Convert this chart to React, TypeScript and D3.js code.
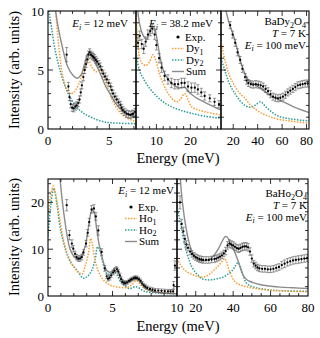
import React from "react";
import * as d3 from "d3";

const FONT = "'Liberation Serif', 'Times New Roman', serif";
const ORANGE = "#f89c34";
const TEAL = "#2b9e98";
const GRAY = "#8c8c8c";

type Pt = [number, number];
type ExpPt = [number, number, number];

// ---- BaDy2O4, Ei = 12 meV ----
const dy12Exp: ExpPt[] = [
  [1.52, 6.3, 0.6], [1.66, 3.6, 0.35], [1.75, 2.7, 0.3], [1.85, 2.1, 0.3], [1.97, 1.8, 0.3],
  [2.1, 1.75, 0.3], [2.22, 1.9, 0.3], [2.34, 2.0, 0.3], [2.46, 2.2, 0.3], [2.57, 2.5, 0.3],
  [2.67, 3.1, 0.3], [2.76, 3.7, 0.3], [2.88, 4.4, 0.3], [2.99, 5.0, 0.3], [3.1, 5.5, 0.3],
  [3.2, 5.9, 0.3], [3.3, 6.3, 0.3], [3.4, 6.5, 0.3], [3.5, 6.3, 0.3], [3.6, 6.2, 0.3],
  [3.7, 6.1, 0.3], [3.8, 6.0, 0.3], [3.9, 5.85, 0.3], [4.0, 5.7, 0.3], [4.13, 5.5, 0.3],
  [4.26, 5.3, 0.3], [4.38, 5.0, 0.3], [4.5, 4.7, 0.3], [4.65, 4.45, 0.3], [4.8, 4.2, 0.3],
  [4.95, 3.9, 0.3], [5.1, 3.6, 0.3], [5.2, 3.3, 0.3], [5.3, 3.0, 0.3], [5.45, 2.75, 0.3],
  [5.6, 2.5, 0.3], [5.75, 2.25, 0.3], [5.9, 2.05, 0.3], [6.0, 1.8, 0.3], [6.1, 1.6, 0.3],
  [6.25, 1.45, 0.3], [6.4, 1.3, 0.3], [6.55, 1.25, 0.3], [6.7, 1.2, 0.3], [6.85, 1.25, 0.3],
  [6.95, 1.3, 0.3], [7.1, 1.45, 0.3],
];
const dy12Dy1: Pt[] = [
  [0.6, 10.3], [0.9, 6.8], [1.2, 4.5], [1.5, 3.4], [1.8, 3.0], [2.1, 3.1], [2.5, 3.8],
  [2.9, 4.9], [3.3, 5.85], [3.6, 5.2], [3.95, 4.85], [4.3, 5.1], [4.6, 4.4], [5.0, 3.1],
  [5.4, 2.1], [5.8, 1.5], [6.3, 1.0], [7.2, 0.6],
];
const dy12Dy2: Pt[] = [
  [0.0, 10.5], [0.3, 8.5], [0.6, 6.6], [1.0, 4.9], [1.4, 3.6], [1.8, 2.7], [2.3, 1.9],
  [2.9, 1.33], [3.6, 0.95], [4.6, 0.6], [5.6, 0.5], [7.2, 0.45],
];
const dy12Sum: Pt[] = [
  [0.55, 10.5], [0.8, 8.8], [1.2, 6.8], [1.6, 5.3], [2.0, 4.6], [2.4, 4.3], [2.7, 4.6],
  [3.0, 5.6], [3.2, 6.3], [3.4, 6.5], [3.6, 6.2], [3.9, 5.5], [4.3, 4.6], [4.7, 3.6],
  [5.1, 2.9], [5.5, 2.2], [6.0, 1.6], [6.5, 1.25], [7.2, 1.0],
];

// ---- BaDy2O4, Ei = 38.2 meV ----
const dy38Exp: ExpPt[] = [
  [4.6, 7.3, 0.5], [5.1, 7.9, 0.4], [5.7, 7.2, 0.4], [6.26, 6.8, 0.4], [6.85, 7.4, 0.4],
  [7.5, 8.0, 0.4], [8.2, 8.3, 0.4], [8.8, 8.5, 0.4], [9.5, 8.0, 0.4], [10.0, 7.1, 0.4],
  [10.8, 6.0, 0.4], [11.5, 5.2, 0.4], [12.4, 4.5, 0.4], [13.4, 4.2, 0.4], [14.4, 3.9, 0.4],
  [15.4, 3.8, 0.4], [16.4, 3.8, 0.4], [17.4, 3.9, 0.4], [18.3, 3.9, 0.4], [19.3, 3.6, 0.4],
  [20.3, 3.5, 0.4], [21.3, 3.5, 0.4], [22.2, 3.35, 0.4], [23.2, 3.1, 0.35], [24.2, 2.8, 0.35],
  [25.7, 2.6, 0.3], [27.1, 2.3, 0.3], [28.4, 2.1, 0.3],
];
const dy38Dy1: Pt[] = [
  [4.0, 9.5], [4.5, 7.5], [5.1, 6.0], [6.0, 5.5], [7.0, 5.4], [8.0, 5.7], [9.0, 6.3],
  [9.7, 5.9], [11.0, 4.6], [12.9, 3.3], [14.5, 2.6], [15.9, 2.3], [17.0, 2.5], [18.3, 3.0],
  [19.3, 2.5], [20.3, 1.9], [22.0, 1.65], [23.7, 1.5], [26.0, 1.35], [29.0, 1.2],
];
const dy38Dy2: Pt[] = [
  [4.0, 6.5], [5.0, 5.0], [6.5, 4.1], [8.0, 3.45], [10.0, 2.8], [12.0, 2.3], [14.0, 1.95],
  [17.0, 1.6], [20.0, 1.35], [24.0, 1.1], [29.0, 0.9],
];
const dy38Sum: Pt[] = [
  [4.4, 10.5], [5.0, 9.0], [6.0, 8.0], [7.0, 7.6], [8.0, 8.2], [8.8, 8.7], [9.5, 8.5],
  [10.3, 7.4], [11.0, 6.2], [12.0, 5.0], [13.0, 4.4], [14.4, 3.9], [15.5, 3.65], [16.5, 3.5],
  [17.5, 3.5], [18.3, 3.55], [19.3, 3.2], [20.5, 2.9], [22.0, 2.6], [24.0, 2.3], [26.0, 2.0],
  [29.0, 1.6],
];

// ---- BaDy2O4, Ei = 100 meV ----
const dy100Exp: ExpPt[] = [
  [17.5, 8.8, 0.3], [19.5, 8.0, 0.3], [21.6, 7.3, 0.3], [23.5, 6.5, 0.3], [25.7, 5.85, 0.3],
  [27.5, 5.1, 0.3], [29.7, 4.4, 0.3], [31.0, 4.1, 0.3], [32.4, 3.9, 0.3], [34.4, 3.8, 0.3],
  [36.4, 3.76, 0.3], [38.5, 3.8, 0.3], [40.5, 3.76, 0.3], [42.5, 3.7, 0.3], [44.5, 3.6, 0.3],
  [46.5, 3.4, 0.3], [48.5, 3.2, 0.3], [50.5, 2.95, 0.3], [52.6, 2.74, 0.3], [54.6, 2.65, 0.3],
  [56.6, 2.6, 0.3], [58.6, 2.65, 0.3], [60.7, 2.74, 0.3], [62.7, 2.9, 0.3], [64.7, 3.1, 0.3],
  [66.7, 3.25, 0.3], [68.8, 3.4, 0.3], [70.8, 3.55, 0.3], [72.8, 3.7, 0.3], [74.8, 3.75, 0.3],
  [76.8, 3.8, 0.3], [78.8, 3.85, 0.3], [80.9, 3.85, 0.3],
];
const dy100Dy1: Pt[] = [
  [10, 7.4], [13.5, 5.7], [17, 4.5], [21.5, 3.6], [25.5, 3.0], [29.6, 2.6], [33.5, 2.1],
  [37.8, 1.7], [43, 1.35], [48.6, 1.1], [56, 0.85], [64.8, 0.7], [72, 0.6], [82, 0.5],
];
const dy100Dy2: Pt[] = [
  [10, 6.0], [13.5, 4.85], [17, 3.8], [21.5, 3.0], [25.5, 2.4], [29.6, 2.0], [33, 1.85],
  [36, 1.9], [39, 2.1], [42, 2.3], [44, 2.2], [46, 1.95], [48.6, 1.7], [52, 1.4],
  [56.7, 1.1], [62, 0.95], [67.5, 0.85], [75, 0.75], [82, 0.7],
];
const dy100Sum: Pt[] = [
  [13, 10.6], [15, 9.6], [17.5, 8.7], [20, 8.0], [22, 7.3], [24, 6.5], [26, 5.7], [28, 5.1],
  [30, 4.6], [32, 4.2], [34, 4.0], [36, 3.85], [38, 3.75], [40, 3.6], [42, 3.5], [45, 3.25],
  [48, 3.0], [52, 2.75], [56, 2.55], [60, 2.35], [65, 2.1], [70, 1.85], [75, 1.65], [82, 1.4],
];

// ---- BaHo2O4, Ei = 12 meV ----
const ho12Exp: ExpPt[] = [
  [1.45, 19.4, 1.2], [1.66, 13.0, 1.0], [1.85, 11.2, 0.8], [1.96, 10.1, 0.7], [2.1, 9.0, 0.6],
  [2.22, 8.3, 0.6], [2.35, 8.0, 0.6], [2.48, 8.0, 0.6], [2.62, 8.3, 0.6], [2.75, 9.3, 0.6],
  [2.95, 11.2, 0.7], [3.08, 13.5, 0.7], [3.2, 15.8, 0.8], [3.38, 18.5, 0.8], [3.56, 18.7, 0.8],
  [3.71, 17.0, 0.8], [3.9, 14.0, 1.0], [4.16, 9.4, 0.7], [4.4, 5.9, 0.6], [4.55, 4.2, 0.5],
  [4.65, 3.7, 0.5], [4.78, 3.9, 0.5], [4.9, 4.4, 0.5], [5.05, 5.0, 0.5], [5.17, 5.4, 0.5],
  [5.35, 5.7, 0.5], [5.45, 5.2, 0.5], [5.56, 4.4, 0.5], [5.67, 3.6, 0.5], [5.77, 3.0, 0.4],
  [5.9, 2.8, 0.4], [6.0, 2.7, 0.4], [6.14, 2.9, 0.4], [6.28, 3.2, 0.4], [6.4, 3.4, 0.4],
  [6.5, 3.6, 0.4], [6.65, 3.8, 0.4], [6.77, 3.9, 0.4], [6.9, 3.85, 0.4], [7.05, 3.6, 0.4],
  [7.18, 3.2, 0.4], [7.3, 2.7, 0.4], [7.42, 2.3, 0.4], [7.55, 2.0, 0.4], [7.7, 1.75, 0.4],
  [7.9, 1.5, 0.4], [8.1, 1.35, 0.4], [8.3, 1.2, 0.4], [8.55, 1.15, 0.4], [8.8, 1.1, 0.4],
  [9.05, 1.05, 0.4], [9.3, 1.0, 0.4], [9.5, 1.0, 0.4], [9.7, 1.0, 0.4],
];
const ho12Ho1: Pt[] = [
  [0, 17.3], [0.2, 21.5], [0.41, 23.5], [0.6, 21.5], [0.8, 18.4], [1.0, 15.0], [1.19, 12.0],
  [1.45, 9.5], [1.7, 7.7], [2.1, 5.8], [2.48, 4.85], [2.65, 4.7], [2.87, 6.3], [3.13, 9.1],
  [3.31, 12.3], [3.45, 11.0], [3.64, 7.7], [4.03, 4.5], [4.4, 3.1], [4.8, 2.35], [5.4, 1.9],
  [6.1, 1.8], [6.5, 2.4], [6.85, 3.3], [7.2, 2.4], [7.6, 1.4], [8.0, 1.0], [8.8, 0.7], [10, 0.55],
];
const ho12Ho2: Pt[] = [
  [0, 12.7], [0.2, 19.0], [0.45, 23.0], [0.7, 19.5], [0.93, 14.8], [1.2, 11.5], [1.45, 9.1],
  [1.8, 7.0], [2.22, 5.6], [2.74, 3.8], [3.1, 4.3], [3.4, 5.5], [3.65, 7.8], [3.85, 10.5],
  [4.05, 9.5], [4.2, 7.7], [4.55, 4.85], [4.8, 4.6], [5.1, 5.3], [5.35, 4.5], [5.7, 2.8],
  [6.3, 1.6], [6.8, 2.0], [7.5, 1.0], [8.5, 0.6], [10, 0.5],
];
const ho12Sum: Pt[] = [
  [0.9, 26], [1.1, 20.5], [1.32, 15.8], [1.5, 12.6], [1.7, 10.1], [2.0, 8.5], [2.35, 7.8],
  [2.6, 8.6], [2.87, 10.5], [3.1, 14.0], [3.25, 16.8], [3.4, 18.3], [3.55, 18.0], [3.77, 14.4],
  [3.95, 11.2], [4.16, 8.7], [4.35, 6.7], [4.55, 5.5], [4.75, 5.1], [4.94, 5.2], [5.1, 5.8],
  [5.27, 6.2], [5.45, 5.3], [5.7, 3.7], [5.95, 3.1], [6.2, 3.0], [6.5, 3.4], [6.87, 3.7],
  [7.2, 2.9], [7.65, 1.6], [8.2, 1.0], [8.7, 0.7], [9.5, 0.5], [10, 0.5],
];

// ---- BaHo2O4, Ei = 100 meV ----
const ho100Exp: ExpPt[] = [
  [8.2, 2.3, 0.8], [8.9, 6.5, 1.0],
  [11.6, 20.0, 1.4], [12.5, 15.4, 1.0], [13.4, 13.8, 0.9], [14.2, 12.2, 0.8], [15.0, 11.0, 0.8],
  [15.9, 10.3, 0.7], [17.0, 9.5, 0.7], [18.0, 9.0, 0.7], [19.0, 8.6, 0.7], [20.0, 8.3, 0.7],
  [21.0, 8.1, 0.7], [22.0, 7.9, 0.7], [23.0, 7.8, 0.7], [24.0, 7.7, 0.7], [25.5, 7.7, 0.7],
  [27.0, 7.7, 0.7], [28.5, 7.8, 0.7], [30.0, 7.9, 0.7], [31.0, 8.0, 0.7], [32.0, 8.2, 0.7],
  [33.0, 8.4, 0.7], [34.0, 8.7, 0.7], [35.0, 9.1, 0.7], [36.0, 9.6, 0.8], [37.0, 10.8, 0.8],
  [38.0, 11.2, 0.8], [39.0, 11.0, 0.8], [40.0, 10.8, 0.8], [41.0, 10.5, 0.8], [42.0, 10.2, 0.8],
  [43.0, 10.1, 0.8], [44.0, 10.3, 0.8], [45.0, 10.5, 0.8], [46.0, 10.6, 0.8], [47.0, 10.6, 0.8],
  [48.0, 10.4, 0.8], [49.0, 9.5, 0.8], [50.0, 8.0, 0.8], [51.0, 6.9, 0.7], [52.0, 6.5, 0.7],
  [53.0, 6.1, 0.7], [54.0, 5.9, 0.7], [55.5, 5.8, 0.7], [57.0, 5.8, 0.7], [58.5, 5.7, 0.7],
  [60.0, 5.7, 0.7], [61.5, 5.8, 0.7], [63.0, 6.0, 0.7], [64.5, 6.2, 0.7], [66.0, 6.6, 0.8],
  [67.5, 6.9, 0.8], [69.0, 7.2, 0.8], [70.5, 7.4, 0.8], [72.0, 7.6, 0.8], [73.5, 7.7, 0.8],
  [75.0, 7.8, 0.8], [76.5, 7.9, 0.8], [78.0, 8.0, 0.8], [79.5, 8.1, 0.8],
];
const ho100Ho1: Pt[] = [
  [10, 8.0], [12, 6.6], [14, 5.6], [16, 5.0], [18, 4.6], [20, 4.3], [22, 4.1], [24, 4.05],
  [26, 4.3], [28, 4.9], [30, 5.6], [32, 6.4], [34, 7.3], [35.5, 8.0], [36.5, 7.3], [37.5, 5.9],
  [39, 4.4], [40.5, 3.3], [42, 2.7], [45, 2.2], [48, 1.9], [52, 1.6], [58, 1.3], [65, 1.1],
  [72, 1.0], [80, 0.9],
];
const ho100Ho2: Pt[] = [
  [10, 18.5], [10.7, 17.6], [12.5, 14.4], [14.2, 10.8], [16.8, 7.3], [18.5, 5.8], [20.4, 4.8],
  [22, 4.1], [23.9, 3.6], [26.5, 3.45], [29.1, 3.5], [31.5, 3.7], [34.4, 4.0], [37, 4.6],
  [39.6, 5.5], [41.3, 6.5], [42.5, 7.1], [43.5, 6.7], [44.5, 5.5], [45.5, 4.2], [46.7, 3.0],
  [48.5, 2.3], [52, 1.8], [59, 1.3], [68, 1.1], [80, 1.0],
];
const ho100Sum: Pt[] = [
  [11.7, 25.5], [12.5, 21.5], [13.3, 18.7], [14.5, 15.3], [16, 12.2], [17.3, 10.2], [18.6, 8.9],
  [20, 8.2], [22, 7.6], [24, 7.5], [26, 7.6], [28, 8.0], [30, 8.8], [32, 10.0], [34, 11.6],
  [35.5, 12.6], [36.5, 12.7], [37.5, 12.2], [38.8, 11.0], [40.1, 10.1], [41.5, 8.7], [42.8, 7.3],
  [44, 5.8], [45.4, 4.4], [47, 3.6], [49, 3.1], [52, 2.7], [56, 2.3], [60, 2.1], [65, 1.9],
  [72, 1.75], [80, 1.6],
];

const ticksOf = (d0: number, d1: number, step: number) => {
  const out: number[] = [];
  for (let k = Math.ceil(d0 / step - 1e-9); k * step <= d1 + 1e-9; k++) out.push(+(k * step).toFixed(6));
  return out;
};

const Sub = ({ children }: { children: React.ReactNode }) => (
  <tspan fontSize="8" dy="2.5">{children}</tspan>
);

function Panel(props: any) {
  const { id, left, right, top, bottom, xDomain, yDomain, xMinor, xMajor, yMinor, yMajor,
    xLabels, yLabels, exp, c1, c2, sum } = props;
  const x = d3.scaleLinear().domain(xDomain).range([left, right]);
  const y = d3.scaleLinear().domain(yDomain).range([bottom, top]);
  const line = d3.line<Pt>().x((d) => x(d[0])).y((d) => y(d[1])).curve(d3.curveCatmullRom.alpha(0.5));
  const xt = ticksOf(xDomain[0], xDomain[1], xMinor).filter((v) => x(v) > left + 0.5 && x(v) < right - 0.5);
  const yt = ticksOf(yDomain[0], yDomain[1], yMinor).filter((v) => y(v) < bottom - 0.5 && y(v) > top + 0.5);
  const isMaj = (v: number, m: number) => Math.abs(v / m - Math.round(v / m)) < 1e-6;
  return (
    <g>
      <defs>
        <clipPath id={id}>
          <rect x={left} y={top} width={right - left} height={bottom - top} />
        </clipPath>
      </defs>
      <g clipPath={`url(#${id})`} fill="none">
        <path d={line(c2) || ""} stroke={TEAL} strokeWidth={1.5} strokeDasharray="1.5 1.4" />
        <path d={line(c1) || ""} stroke={ORANGE} strokeWidth={1.5} strokeDasharray="1.5 1.4" />
        <path d={line(sum) || ""} stroke={GRAY} strokeWidth={1.4} />
      </g>
      <g>
        {exp.map((d: ExpPt, i: number) => {
          const cx = x(d[0]);
          const y1 = y(d[1] - d[2]);
          const y2 = y(d[1] + d[2]);
          return (
            <g key={i} stroke="#555" strokeWidth={0.6}>
              <line x1={cx} x2={cx} y1={y1} y2={y2} />
              <line x1={cx - 1.6} x2={cx + 1.6} y1={y1} y2={y1} />
              <line x1={cx - 1.6} x2={cx + 1.6} y1={y2} y2={y2} />
              <circle cx={cx} cy={y(d[1])} r={1.15} fill="#000" stroke="none" />
            </g>
          );
        })}
      </g>
      <rect x={left} y={top} width={right - left} height={bottom - top} fill="none" stroke="#000" strokeWidth={1.1} />
      <g stroke="#000" strokeWidth={0.8}>
        {xt.map((v) => {
          const L = isMaj(v, xMajor) ? 5 : 3;
          return (
            <g key={"x" + v}>
              <line x1={x(v)} x2={x(v)} y1={bottom} y2={bottom - L} />
              <line x1={x(v)} x2={x(v)} y1={top} y2={top + L} />
            </g>
          );
        })}
        {yt.map((v) => {
          const L = isMaj(v, yMajor) ? 5 : 3;
          return (
            <g key={"y" + v}>
              <line x1={left} x2={left + L} y1={y(v)} y2={y(v)} />
              <line x1={right} x2={right - L} y1={y(v)} y2={y(v)} />
            </g>
          );
        })}
      </g>
      <g fontFamily={FONT} fontSize={13} fill="#000">
        {xLabels.map((v: number) => (
          <text key={"xl" + v} x={x(v)} y={bottom + 15.5} textAnchor="middle">{v}</text>
        ))}
        {(yLabels || []).map((v: number) => (
          <text key={"yl" + v} x={left - 4} y={y(v) + 4.5} textAnchor="end">{v}</text>
        ))}
      </g>
    </g>
  );
}

function Legend({ x0, y0, n1, n2 }: { x0: number; y0: number; n1: string; n2: string }) {
  const rows = [0, 1, 2, 3].map((i) => y0 + i * 11.5);
  return (
    <g fontFamily={FONT} fontSize={11} fill="#000">
      <circle cx={x0 + 6} cy={rows[0]} r={1.6} fill="#000" />
      <text x={x0 + 13} y={rows[0] + 3.8}>Exp.</text>
      <line x1={x0} x2={x0 + 12} y1={rows[1]} y2={rows[1]} stroke={ORANGE} strokeWidth={1.5} strokeDasharray="1.5 1.4" />
      <text x={x0 + 14} y={rows[1] + 3.8}>{n1}<Sub>1</Sub></text>
      <line x1={x0} x2={x0 + 12} y1={rows[2]} y2={rows[2]} stroke={TEAL} strokeWidth={1.5} strokeDasharray="1.5 1.4" />
      <text x={x0 + 14} y={rows[2] + 3.8}>{n2}<Sub>2</Sub></text>
      <line x1={x0} x2={x0 + 12} y1={rows[3]} y2={rows[3]} stroke={GRAY} strokeWidth={1.4} />
      <text x={x0 + 14} y={rows[3] + 3.8}>Sum</text>
    </g>
  );
}

const EiLabel = ({ x, y, value }: { x: number; y: number; value: string }) => (
  <text x={x} y={y} textAnchor="end" fontFamily={FONT} fontSize={11}>
    <tspan fontStyle="italic">E</tspan>
    <tspan fontStyle="italic" fontSize="8" dy="2.5">i</tspan>
    <tspan dy="-2.5">{` = ${value} meV`}</tspan>
  </text>
);

const Compound = ({ x, y, el }: { x: number; y: number; el: string }) => (
  <g fontFamily={FONT} fontSize={11} textAnchor="end">
    <text x={x} y={y}>
      {`Ba${el}`}<tspan fontSize="8" dy="2.5">2</tspan><tspan dy="-2.5">O</tspan><tspan fontSize="8" dy="2.5">4</tspan>
    </text>
    <text x={x} y={y + 12}>
      <tspan fontStyle="italic">T</tspan> = 7 K
    </text>
    <EiLabel x={x} y={y + 23.5} value="100" />
  </g>
);

export default function App() {
  const topY = [11, 129];
  const botY = [179, 296];
  return (
    <svg width={320} height={338} style={{ position: "absolute", left: 0, top: 0, background: "#fff" }}>
      <Panel id="pa" left={48} right={136} top={topY[0]} bottom={topY[1]} xDomain={[0, 7.17]} yDomain={[0, 10]}
        xMinor={1} xMajor={5} yMinor={1} yMajor={5} xLabels={[0, 5]} yLabels={[0, 5, 10]}
        exp={dy12Exp} c1={dy12Dy1} c2={dy12Dy2} sum={dy12Sum} />
      <Panel id="pb" left={136} right={221} top={topY[0]} bottom={topY[1]} xDomain={[4, 29]} yDomain={[0, 10]}
        xMinor={2} xMajor={10} yMinor={1} yMajor={5} xLabels={[10, 20]}
        exp={dy38Exp} c1={dy38Dy1} c2={dy38Dy2} sum={dy38Sum} />
      <Panel id="pc" left={221} right={309} top={topY[0]} bottom={topY[1]} xDomain={[10, 82]} yDomain={[0, 10]}
        xMinor={10} xMajor={20} yMinor={1} yMajor={5} xLabels={[20, 40, 60, 80]}
        exp={dy100Exp} c1={dy100Dy1} c2={dy100Dy2} sum={dy100Sum} />
      <Panel id="pd" left={48} right={177} top={botY[0]} bottom={botY[1]} xDomain={[0, 10]} yDomain={[0, 25]}
        xMinor={1} xMajor={5} yMinor={2} yMajor={10} xLabels={[0, 5]} yLabels={[0, 10, 20]}
        exp={ho12Exp} c1={ho12Ho1} c2={ho12Ho2} sum={ho12Sum} />
      <Panel id="pe" left={177} right={308} top={botY[0]} bottom={botY[1]} xDomain={[10, 80]} yDomain={[0, 25]}
        xMinor={5} xMajor={20} yMinor={2} yMajor={10} xLabels={[10, 20, 40, 60, 80]}
        exp={ho100Exp} c1={ho100Ho1} c2={ho100Ho2} sum={ho100Sum} />

      <EiLabel x={128} y={27} value="12" />
      <EiLabel x={213} y={27} value="38.2" />
      <Legend x0={172} y0={37} n1="Dy" n2="Dy" />
      <Compound x={306} y={25} el="Dy" />

      <EiLabel x={174} y={194} value="12" />
      <Legend x0={125} y0={207} n1="Ho" n2="Ho" />
      <Compound x={307} y={197} el="Ho" />

      <g fontFamily={FONT} fontSize={14.5} textAnchor="middle">
        <text x={178} y={163}>Energy (meV)</text>
        <text x={178} y={331}>Energy (meV)</text>
        <text transform="translate(19,70) rotate(-90)">Intensity (arb. units)</text>
        <text transform="translate(19,237) rotate(-90)">Intensity (arb. units)</text>
      </g>
    </svg>
  );
}
